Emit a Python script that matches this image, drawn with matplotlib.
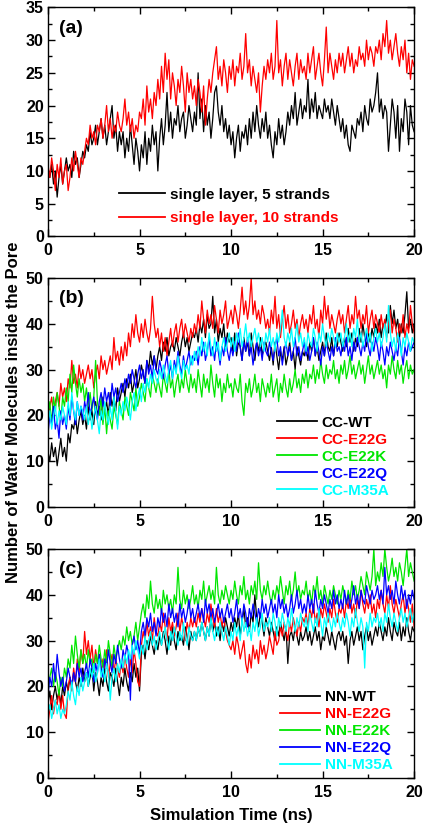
"""
Water molecules inside the pore vs. simulation time, three stacked panels.
Saves out.png (423x825 px).
"""

import numpy as np
import matplotlib
matplotlib.use("Agg")
import matplotlib.pyplot as plt
from matplotlib.ticker import MultipleLocator

# time axis: one sample every 0.1 ns, 0..20 ns
TIME_NS = np.arange(201) / 10.0

# ---- panel (a): single layer -------------------------------------------
A_5_STRANDS = [
    10, 9, 11, 8, 10, 6, 9, 11, 8, 10, 12, 10, 11, 9, 13, 11, 12, 9, 11, 13,
    12, 14, 13, 16, 14, 15, 17, 14, 16, 18, 15, 17, 14, 16, 18, 20, 15, 17, 13, 16,
    14, 16, 12, 15, 13, 17, 14, 11, 15, 13, 10, 14, 12, 16, 11, 15, 13, 17, 14, 16,
    10, 15, 18, 14, 17, 22, 16, 19, 15, 18, 17, 20, 16, 18, 19, 15, 17, 20, 18, 16,
    19, 17, 25, 18, 21, 16, 20, 17, 19, 15, 18, 22, 23, 19, 17, 20, 16, 18, 15, 17,
    14, 16, 12, 15, 17, 13, 16, 15, 17, 14, 18, 15, 19, 16, 20, 17, 15, 18, 16, 19,
    15, 17, 14, 12, 16, 14, 18, 15, 17, 14, 16, 19, 17, 20, 18, 22, 17, 19, 21, 18,
    20, 19, 24, 18, 21, 19, 22, 18, 20, 19, 18, 21, 19, 20, 18, 21, 19, 17, 20, 18,
    16, 18, 15, 17, 14, 13, 17, 16, 15, 18, 17, 19, 16, 20, 18, 17, 21, 19, 20, 22,
    25, 19, 21, 18, 20, 19, 13, 17, 21, 19, 15, 20, 13, 18, 16, 21, 19, 14, 20, 17,
    16,
]
A_10_STRANDS = [
    11, 9, 12, 10, 7, 11, 9, 12, 8, 10, 11, 7, 9, 12, 10, 13, 11, 9, 12, 11,
    13, 15, 14, 17, 15, 16, 14, 17, 16, 18, 15, 17, 20, 16, 18, 15, 17, 16, 19, 17,
    16, 18, 21, 17, 19, 16, 18, 15, 17, 16, 19, 18, 21, 17, 23, 19, 21, 18, 22, 20,
    24, 21, 26, 22, 28, 24, 27, 21, 25, 23, 20, 24, 22, 26, 23, 19, 25, 22, 24, 21,
    23, 20, 24, 22, 19, 23, 17, 21, 24, 22, 25, 27, 29, 24, 26, 23, 27, 25, 22, 26,
    24, 27, 23, 26, 25, 28, 24, 26, 31, 25, 27, 23, 26, 24, 22, 25, 19, 23, 26, 24,
    27, 25, 28, 24, 26, 33, 25, 27, 23, 26, 28, 24, 27, 25, 23, 26, 28, 24, 27, 25,
    26, 24, 28, 25, 27, 29, 24, 26, 28, 25, 23, 27, 32, 25, 28, 26, 24, 27, 25, 28,
    26, 28, 25, 27, 29, 26, 28, 25, 27, 26, 29, 27, 28, 26, 30, 27, 29, 28, 26, 29,
    28, 30, 27, 31, 29, 33, 28, 30, 27, 29, 31, 28, 26, 29, 27, 30, 25, 28, 24, 27,
    26,
]

# ---- panel (b): CC models ----------------------------------------------
CC_WT = [
    12, 10, 14, 11, 13, 9, 12, 15, 11, 13, 10, 16, 14, 18, 17, 20, 16, 19, 21, 18,
    20, 17, 22, 19, 21, 18, 23, 20, 22, 19, 24, 21, 23, 20, 25, 22, 24, 21, 26, 23,
    25, 27, 24, 28, 26, 29, 25, 27, 30, 26, 28, 31, 29, 27, 32, 30, 34, 31, 33, 30,
    33, 35, 32, 36, 34, 37, 33, 35, 36, 34, 37, 35, 33, 36, 38, 35, 37, 34, 36, 38,
    37, 39, 36, 40, 38, 41, 37, 42, 39, 40, 46, 38, 41, 36, 39, 37, 40, 35, 38, 36,
    37, 34, 38, 33, 36, 35, 32, 37, 34, 36, 33, 38, 35, 32, 36, 34, 37, 33, 35, 36,
    34, 32, 35, 31, 36, 33, 30, 34, 32, 35, 31, 33, 36, 32, 34, 30, 35, 33, 31, 34,
    33, 35, 32, 36, 34, 37, 33, 35, 32, 34, 36, 33, 38, 35, 34, 37, 33, 36, 35, 38,
    36, 34, 37, 35, 39, 36, 38, 34, 37, 35, 39, 36, 40, 37, 35, 38, 36, 39, 37, 40,
    38, 41, 37, 40, 39, 42, 38, 44, 40, 43, 39, 41, 37, 40, 38, 42, 47, 39, 41, 38,
    40,
]
CC_E22G = [
    19, 22, 24, 20, 23, 25, 22, 27, 24, 26, 23, 28, 26, 32, 27, 29, 26, 31, 28, 30,
    27, 29, 31, 28, 30, 26, 29, 31, 28, 33, 30, 32, 29, 31, 33, 30, 37, 32, 34, 31,
    35, 32, 36, 33, 38, 35, 40, 37, 42, 38, 36, 40, 37, 41, 38, 36, 39, 46, 40, 37,
    39, 35, 38, 34, 37, 33, 36, 39, 35, 38, 40, 36, 39, 41, 37, 40, 38, 36, 39, 37,
    40, 38, 42, 39, 45, 41, 38, 43, 40, 42, 39, 44, 41, 38, 43, 40, 42, 45, 39, 41,
    43, 40, 44, 42, 39, 43, 48, 42, 45, 41, 44, 50, 42, 45, 41, 43, 40, 44, 42, 39,
    41, 38, 43, 40, 46, 39, 42, 37, 41, 44, 39, 42, 38, 40, 43, 39, 41, 37, 40, 42,
    39, 41, 38, 42, 40, 44, 39, 41, 37, 43, 40, 46, 41, 44, 39, 42, 40, 38, 41, 43,
    40, 42, 38, 41, 44, 39, 42, 40, 46, 41, 43, 39, 42, 40, 44, 38, 41, 43, 39, 42,
    40, 38, 42, 39, 41, 37, 40, 43, 38, 41, 39, 36, 40, 38, 42, 37, 40, 38, 44, 40,
    38,
]
CC_E22K = [
    20, 23, 18, 24, 21, 25, 22, 19, 24, 22, 26, 23, 29, 25, 31, 27, 24, 28, 25, 27,
    23, 26, 22, 25, 21, 24, 32, 23, 20, 24, 18, 22, 16, 21, 19, 17, 22, 20, 18, 23,
    21, 19, 24, 22, 20, 25, 23, 21, 26, 22, 24, 27, 25, 23, 28, 26, 24, 29, 27, 25,
    28, 26, 24, 29, 27, 25, 30, 26, 28, 24, 27, 29, 25, 28, 26, 30, 27, 25, 29, 26,
    28, 25, 30, 27, 24, 29, 26, 28, 25, 31, 27, 24, 29, 26, 28, 23, 27, 25, 29, 26,
    27, 24, 28, 26, 25, 29, 23, 20, 27, 25, 28, 24, 26, 29, 25, 27, 23, 28, 26, 24,
    27, 25, 29, 24, 26, 28, 23, 27, 25, 29, 26, 24, 28, 25, 27, 30, 26, 28, 25, 29,
    27, 30, 26, 29, 28, 31, 27, 30, 28, 32, 29, 27, 31, 28, 30, 29, 32, 28, 30, 27,
    31, 29, 32, 28, 30, 33, 29, 31, 28, 30, 32, 29, 31, 27, 30, 33, 29, 31, 28, 30,
    32, 29, 31, 28, 30, 26, 31, 29, 33, 30, 28, 32, 29, 31, 27, 30, 32, 28, 31, 29,
    30,
]
CC_E22Q = [
    16, 20, 18, 22, 17, 19, 15, 21, 18, 20, 17, 22, 19, 24, 21, 18, 23, 20, 22, 19,
    23, 21, 25, 20, 22, 24, 21, 19, 23, 25, 22, 26, 23, 25, 22, 27, 24, 26, 23, 25,
    27, 25, 28, 26, 29, 27, 30, 28, 26, 29, 31, 28, 30, 27, 32, 29, 31, 28, 33, 30,
    29, 32, 30, 28, 31, 33, 29, 31, 28, 32, 30, 34, 31, 29, 33, 30, 32, 34, 31, 33,
    32, 34, 31, 35, 33, 36, 32, 34, 37, 33, 35, 32, 36, 34, 31, 35, 33, 37, 34, 32,
    35, 33, 36, 34, 38, 35, 32, 36, 34, 37, 33, 35, 31, 34, 36, 33, 35, 32, 36, 34,
    33, 36, 34, 32, 35, 37, 33, 35, 31, 34, 36, 33, 35, 32, 34, 37, 33, 35, 32, 34,
    36, 33, 35, 32, 34, 37, 33, 36, 34, 31, 35, 33, 36, 34, 32, 35, 33, 37, 34, 35,
    33, 36, 34, 37, 33, 35, 32, 36, 34, 37, 35, 33, 36, 34, 38, 35, 33, 36, 34, 37,
    35, 32, 36, 34, 31, 35, 33, 36, 34, 32, 35, 33, 37, 34, 31, 35, 33, 36, 34, 35,
    36,
]
CC_M35A = [
    18, 21, 17, 20, 22, 18, 21, 19, 22, 20, 18, 23, 20, 25, 21, 19, 23, 20, 22, 21,
    19, 22, 18, 21, 17, 20, 22, 19, 16, 21, 19, 23, 20, 18, 22, 19, 24, 21, 17, 22,
    20, 23, 21, 24, 22, 19, 23, 25, 21, 24, 26, 23, 27, 25, 28, 26, 29, 27, 30, 28,
    27, 30, 28, 31, 29, 27, 30, 32, 28, 31, 29, 33, 30, 28, 32, 30, 31, 29, 33, 31,
    34, 32, 35, 33, 37, 34, 36, 33, 38, 35, 33, 37, 34, 36, 32, 35, 37, 34, 36, 38,
    35, 37, 34, 38, 36, 39, 35, 37, 40, 36, 38, 35, 37, 39, 36, 38, 35, 37, 34, 38,
    36, 39, 35, 37, 34, 38, 36, 39, 43, 37, 35, 38, 36, 39, 35, 37, 40, 36, 38, 35,
    37, 34, 38, 36, 35, 39, 37, 34, 38, 36, 40, 37, 35, 38, 36, 39, 37, 35, 38, 36,
    38, 35, 37, 40, 36, 38, 35, 39, 37, 41, 36, 38, 35, 37, 39, 36, 38, 34, 37, 39,
    36, 38, 35, 37, 40, 36, 44, 38, 35, 37, 34, 38, 36, 33, 37, 35, 38, 36, 34, 37,
    36,
]

# ---- panel (c): NN models ----------------------------------------------
NN_WT = [
    16, 19, 15, 18, 20, 17, 19, 16, 20, 18, 21, 19, 22, 20, 23, 21, 19, 22, 20, 24,
    21, 23, 20, 22, 24, 19, 23, 21, 18, 22, 20, 24, 21, 19, 23, 22, 20, 24, 21, 18,
    22, 20, 24, 21, 19, 23, 21, 25, 22, 24, 19, 27, 29, 26, 30, 28, 31, 29, 27, 30,
    28, 31, 29, 32, 30, 27, 31, 29, 33, 30, 28, 32, 30, 31, 29, 33, 31, 28, 32, 30,
    32, 30, 33, 31, 34, 32, 30, 33, 31, 35, 32, 34, 31, 33, 30, 34, 32, 35, 33, 31,
    34, 32, 35, 33, 36, 31, 34, 37, 33, 35, 32, 36, 34, 40, 35, 33, 36, 34, 31, 35,
    33, 31, 34, 32, 30, 33, 31, 34, 32, 30, 33, 25, 31, 32, 30, 33, 31, 29, 32, 30,
    31, 33, 30, 32, 29, 31, 33, 30, 32, 28, 31, 30, 33, 31, 29, 32, 30, 28, 31, 32,
    30, 32, 29, 31, 25, 30, 32, 29, 31, 33, 30, 32, 28, 31, 33, 30, 32, 29, 31, 33,
    31, 34, 32, 30, 33, 31, 35, 32, 30, 34, 32, 31, 34, 30, 33, 31, 35, 32, 30, 33,
    32,
]
NN_E22G = [
    12, 15, 18, 14, 17, 16, 19, 15, 18, 14, 13, 20, 22, 19, 24, 21, 26, 23, 28, 25,
    32, 27, 30, 26, 29, 24, 28, 25, 27, 23, 26, 24, 28, 22, 25, 27, 23, 26, 24, 22,
    25, 23, 27, 24, 22, 26, 23, 28, 25, 21, 20, 29, 32, 30, 34, 31, 33, 30, 35, 32,
    31, 34, 32, 36, 33, 30, 35, 32, 34, 31, 33, 36, 32, 35, 33, 30, 34, 32, 35, 33,
    35, 33, 36, 34, 37, 35, 33, 36, 34, 38, 35, 33, 37, 34, 36, 33, 35, 32, 30, 29,
    28, 30, 27, 31, 29, 26, 28, 30, 25, 23, 27, 24, 29, 26, 28, 25, 30, 27, 29, 26,
    28, 31, 29, 27, 32, 29, 30, 33, 31, 34, 32, 30, 34, 32, 35, 33, 31, 34, 32, 35,
    34, 36, 33, 37, 35, 38, 34, 36, 33, 37, 35, 38, 36, 34, 37, 35, 39, 36, 34, 37,
    36, 38, 35, 39, 37, 40, 36, 38, 35, 39, 37, 41, 38, 36, 39, 37, 40, 36, 38, 35,
    39, 37, 41, 38, 36, 40, 37, 42, 38, 36, 39, 37, 35, 38, 40, 36, 39, 37, 34, 38,
    33,
]
NN_E22K = [
    19, 22, 24, 20, 23, 21, 18, 22, 20, 24, 22, 26, 24, 29, 25, 31, 27, 24, 28, 25,
    27, 24, 28, 25, 26, 23, 27, 25, 29, 26, 24, 28, 25, 30, 27, 24, 29, 26, 28, 30,
    28, 31, 29, 33, 30, 32, 29, 31, 34, 30, 33, 36, 38, 35, 40, 37, 43, 38, 36, 40,
    37, 39, 36, 41, 38, 40, 37, 39, 36, 40, 38, 46, 39, 37, 41, 38, 40, 37, 39, 42,
    38, 40, 37, 41, 39, 43, 38, 40, 42, 39, 41, 38, 46, 40, 38, 41, 39, 42, 40, 38,
    41, 39, 43, 40, 38, 42, 40, 44, 39, 41, 38, 42, 40, 43, 39, 47, 41, 39, 42, 40,
    43, 40, 38, 41, 39, 42, 40, 44, 41, 38, 42, 40, 43, 39, 41, 45, 40, 42, 39, 41,
    40, 43, 39, 41, 38, 42, 40, 44, 39, 41, 38, 42, 40, 38, 41, 39, 42, 40, 38, 41,
    39, 42, 40, 38, 41, 39, 43, 40, 42, 39, 41, 44, 42, 40, 45, 43, 41, 44, 50, 42,
    45, 43, 47, 44, 50, 46, 43, 45, 48, 44, 46, 43, 47, 45, 42, 46, 50, 44, 47, 45,
    43,
]
NN_E22Q = [
    18, 22, 20, 25, 21, 27, 23, 20, 22, 19, 21, 24, 22, 20, 23, 21, 25, 22, 24, 21,
    23, 25, 22, 26, 24, 21, 25, 23, 27, 24, 22, 26, 24, 28, 25, 23, 27, 25, 29, 26,
    24, 28, 26, 29, 27, 17, 29, 31, 28, 30, 27, 32, 34, 31, 35, 33, 36, 32, 34, 31,
    35, 33, 37, 34, 36, 33, 38, 35, 37, 34, 36, 33, 38, 35, 37, 34, 36, 39, 35, 37,
    34, 36, 38, 35, 37, 34, 39, 36, 38, 35, 37, 34, 36, 38, 35, 37, 34, 36, 38, 35,
    37, 34, 36, 39, 35, 37, 34, 38, 36, 33, 37, 35, 38, 36, 34, 37, 35, 39, 36, 38,
    35, 37, 39, 36, 38, 35, 40, 37, 39, 36, 38, 35, 37, 40, 36, 38, 41, 37, 39, 36,
    38, 36, 40, 37, 39, 36, 41, 38, 36, 39, 37, 40, 38, 36, 39, 37, 41, 38, 40, 37,
    39, 37, 41, 38, 40, 37, 39, 42, 38, 40, 37, 41, 39, 38, 42, 40, 38, 41, 39, 40,
    42, 39, 41, 38, 46, 40, 42, 39, 41, 38, 43, 40, 38, 42, 39, 41, 37, 40, 38, 41,
    39,
]
NN_M35A = [
    14, 16, 13, 15, 17, 14, 16, 13, 15, 14, 16, 19, 17, 21, 18, 16, 20, 18, 22, 19,
    21, 23, 20, 24, 22, 25, 21, 23, 26, 22, 24, 21, 25, 23, 17, 22, 24, 21, 25, 23,
    26, 24, 27, 25, 28, 26, 29, 27, 30, 28, 26, 29, 27, 31, 28, 30, 32, 29, 31, 28,
    30, 32, 29, 31, 33, 30, 28, 32, 30, 33, 31, 29, 32, 30, 34, 31, 29, 33, 31, 30,
    32, 30, 33, 31, 34, 32, 30, 33, 31, 35, 32, 30, 33, 31, 34, 32, 30, 33, 31, 29,
    32, 30, 34, 31, 33, 30, 35, 32, 34, 31, 33, 30, 34, 32, 35, 31, 33, 36, 32, 34,
    33, 35, 32, 36, 34, 31, 35, 33, 36, 34, 32, 35, 33, 37, 34, 32, 35, 33, 36, 34,
    33, 35, 32, 36, 34, 32, 35, 33, 37, 34, 31, 35, 33, 36, 34, 32, 35, 33, 36, 34,
    32, 35, 33, 36, 34, 31, 35, 33, 37, 34, 32, 35, 33, 24, 34, 32, 36, 33, 35, 34,
    36, 33, 35, 32, 36, 34, 38, 35, 33, 36, 34, 32, 35, 37, 34, 36, 33, 35, 37, 34,
    36,
]

A_LABELS = ["single layer, 5 strands", "single layer, 10 strands"]
CC_LABELS = ["CC-WT", "CC-E22G", "CC-E22K", "CC-E22Q", "CC-M35A"]
NN_LABELS = ["NN-WT", "NN-E22G", "NN-E22K", "NN-E22Q", "NN-M35A"]

COLORS = ["#000000", "#ff0000", "#00e600", "#0000ff", "#00ffff"]

plt.rcParams["font.family"] = ["Liberation Sans", "DejaVu Sans"]
plt.rcParams["font.weight"] = "bold"

FS_TICK = 11.5
FS_LEG = 11

fig = plt.figure(figsize=(4.23, 8.25), dpi=100)
L, W, H = 0.1135, 0.8655, 0.2775
ax_a = fig.add_axes([L, 0.7135, W, H])
ax_b = fig.add_axes([L, 0.3855, W, H])
ax_c = fig.add_axes([L, 0.0570, W, H])


def style_axis(ax, ymax, ystep, yminor):
    ax.set_xlim(0, 20)
    ax.set_ylim(0, ymax)
    ax.xaxis.set_major_locator(MultipleLocator(5))
    ax.xaxis.set_minor_locator(MultipleLocator(2.5))
    ax.yaxis.set_major_locator(MultipleLocator(ystep))
    ax.yaxis.set_minor_locator(MultipleLocator(yminor))
    ax.tick_params(which="both", direction="in", top=True, right=True,
                   width=1.0, labelsize=FS_TICK)
    ax.tick_params(which="major", length=5, pad=3)
    ax.tick_params(axis="x", which="major", pad=5)
    ax.tick_params(which="minor", length=3)
    for lab in ax.get_xticklabels() + ax.get_yticklabels():
        lab.set_fontweight("bold")
    for sp in ax.spines.values():
        sp.set_linewidth(1.0)


def add_legend(ax, anchor, hlen, spacing):
    leg = ax.legend(loc="lower left", bbox_to_anchor=anchor, frameon=False,
                    fontsize=FS_LEG, handlelength=hlen, handletextpad=0.3,
                    labelspacing=spacing, borderpad=0, borderaxespad=0)
    for txt, line in zip(leg.get_texts(), leg.get_lines()):
        txt.set_color(line.get_color())
        txt.set_fontweight("bold")
        line.set_linewidth(1.3)
    return leg


# (a)
for ys, lab, col in zip([A_5_STRANDS, A_10_STRANDS], A_LABELS, COLORS):
    ax_a.plot(TIME_NS, ys, color=col, lw=0.9, label=lab)
style_axis(ax_a, 35, 5, 2.5)
add_legend(ax_a, (0.195, 0.05), 3.0, 0.6)
ax_a.text(0.03, 0.91, "(a)", transform=ax_a.transAxes, fontsize=14,
          fontweight="bold", va="center")

# (b)
for ys, lab, col in zip([CC_WT, CC_E22G, CC_E22K, CC_E22Q, CC_M35A], CC_LABELS, COLORS):
    ax_b.plot(TIME_NS, ys, color=col, lw=0.9, label=lab)
style_axis(ax_b, 50, 10, 5)
add_legend(ax_b, (0.625, 0.04), 2.6, 0.2)
ax_b.text(0.03, 0.91, "(b)", transform=ax_b.transAxes, fontsize=14,
          fontweight="bold", va="center")

# (c)
for ys, lab, col in zip([NN_WT, NN_E22G, NN_E22K, NN_E22Q, NN_M35A], NN_LABELS, COLORS):
    ax_c.plot(TIME_NS, ys, color=col, lw=0.9, label=lab)
style_axis(ax_c, 50, 10, 5)
add_legend(ax_c, (0.635, 0.025), 2.6, 0.2)
ax_c.text(0.03, 0.91, "(c)", transform=ax_c.transAxes, fontsize=14,
          fontweight="bold", va="center")
ax_c.set_xlabel("Simulation Time (ns)", fontsize=12, fontweight="bold", labelpad=6)

fig.text(0.033, 0.5, "Number of Water Molecules inside the Pore", rotation=90,
         fontsize=12, fontweight="bold", ha="center", va="center")

fig.savefig("out.png", dpi=100)
